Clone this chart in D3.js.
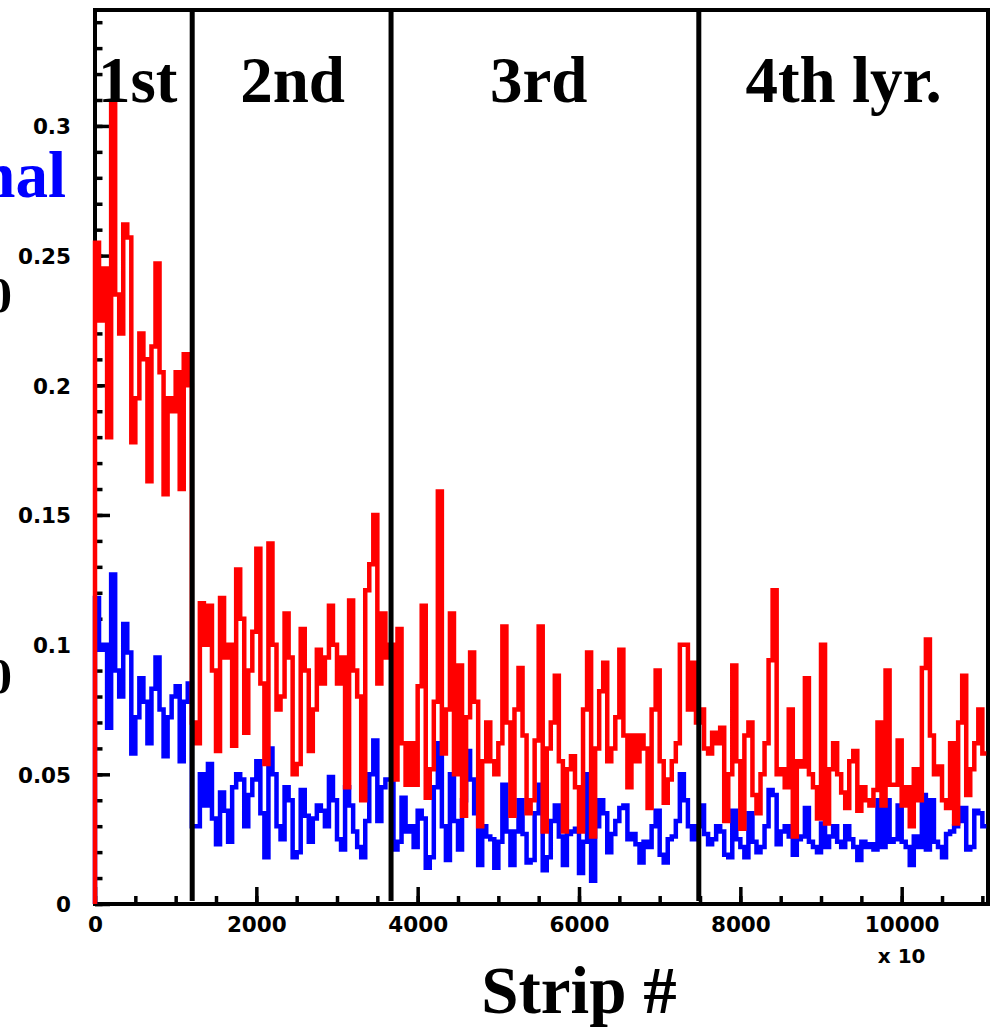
<!DOCTYPE html>
<html>
<head>
<meta charset="utf-8">
<script src="https://cdn.jsdelivr.net/npm/d3@7"></script>
<style>
  body { margin: 0; background: #fff; }
  svg { display: block; }
</style>
</head>
<body>
<svg id="chart"></svg>
<script>
// bin width in strips (x axis shown "x 10")
const binWidth = 50;

// red histogram, one array per layer
const redLayer1 = [0.255, 0.225, 0.245, 0.18, 0.309, 0.235, 0.22, 0.262, 0.257, 0.178, 0.195, 0.22,
  0.21, 0.163, 0.215, 0.247, 0.205, 0.158, 0.195, 0.19, 0.205, 0.16, 0.212, 0.2];
const redLayer2 = [0.07, 0.062, 0.116, 0.1, 0.115, 0.09, 0.059, 0.118, 0.095, 0.1, 0.061, 0.129,
  0.11, 0.066, 0.09, 0.105, 0.137, 0.085, 0.054, 0.139, 0.1, 0.075, 0.08, 0.112, 0.095, 0.05,
  0.054, 0.106, 0.09, 0.059, 0.075, 0.098, 0.085, 0.095, 0.115, 0.1, 0.085, 0.095, 0.045, 0.117,
  0.09, 0.08, 0.04, 0.121, 0.131, 0.15, 0.085, 0.112, 0.095];
const redLayer3 = [0.1, 0.048, 0.106, 0.062, 0.046, 0.062, 0.046, 0.084, 0.115, 0.041, 0.052, 0.078,
  0.159, 0.058, 0.075, 0.112, 0.05, 0.092, 0.034, 0.072, 0.097, 0.078, 0.03, 0.055, 0.07, 0.055,
  0.05, 0.062, 0.107, 0.07, 0.034, 0.075, 0.091, 0.065, 0.035, 0.04, 0.063, 0.107, 0.028, 0.06,
  0.07, 0.088, 0.055, 0.028, 0.052, 0.057, 0.045, 0.028, 0.075, 0.097, 0.026, 0.06, 0.082, 0.093,
  0.055, 0.06, 0.072, 0.098, 0.065, 0.045, 0.065, 0.055, 0.065, 0.06, 0.037, 0.075, 0.09, 0.055,
  0.039, 0.048, 0.055, 0.062, 0.1, 0.1, 0.075, 0.093];
const redLayer4 = [0.07, 0.075, 0.06, 0.058, 0.066, 0.062, 0.068, 0.032, 0.05, 0.092, 0.055, 0.029,
  0.065, 0.07, 0.042, 0.035, 0.05, 0.062, 0.094, 0.121, 0.05, 0.052, 0.045, 0.075, 0.026, 0.055,
  0.053, 0.087, 0.05, 0.045, 0.033, 0.1, 0.031, 0.052, 0.062, 0.05, 0.043, 0.037, 0.055, 0.059,
  0.036, 0.045, 0.04, 0.038, 0.044, 0.07, 0.038, 0.09, 0.046, 0.046, 0.063, 0.038, 0.045, 0.03,
  0.052, 0.04, 0.091, 0.102, 0.065, 0.05, 0.053, 0.04, 0.037, 0.062, 0.031, 0.07, 0.088, 0.042,
  0.052, 0.062, 0.075, 0.058];

// blue histogram
const blueLayer1 = [0.118, 0.098, 0.1, 0.068, 0.127, 0.09, 0.08, 0.108, 0.097, 0.058, 0.072, 0.087,
  0.078, 0.062, 0.083, 0.095, 0.075, 0.057, 0.072, 0.08, 0.084, 0.055, 0.078, 0.085];
const blueLayer2 = [0.03, 0.03, 0.05, 0.038, 0.054, 0.033, 0.023, 0.043, 0.036, 0.024, 0.045, 0.05,
  0.048, 0.03, 0.042, 0.048, 0.055, 0.035, 0.018, 0.06, 0.05, 0.03, 0.025, 0.045, 0.04, 0.018,
  0.02, 0.044, 0.034, 0.024, 0.033, 0.038, 0.036, 0.03, 0.049, 0.04, 0.025, 0.021, 0.045, 0.038,
  0.028, 0.022, 0.018, 0.032, 0.05, 0.063, 0.032, 0.045, 0.048];
const blueLayer3 = [0.048, 0.021, 0.024, 0.041, 0.028, 0.03, 0.022, 0.036, 0.033, 0.014, 0.018, 0.045,
  0.062, 0.03, 0.017, 0.05, 0.032, 0.021, 0.04, 0.059, 0.048, 0.035, 0.015, 0.03, 0.026, 0.025,
  0.014, 0.024, 0.046, 0.028, 0.015, 0.028, 0.04, 0.027, 0.016, 0.017, 0.035, 0.046, 0.013, 0.018,
  0.032, 0.038, 0.026, 0.015, 0.027, 0.028, 0.029, 0.012, 0.024, 0.05, 0.009, 0.03, 0.04, 0.035,
  0.02, 0.027, 0.032, 0.037, 0.038, 0.025, 0.027, 0.023, 0.016, 0.024, 0.022, 0.03, 0.036, 0.019,
  0.016, 0.025, 0.026, 0.032, 0.05, 0.04, 0.03, 0.025];
const blueLayer4 = [0.03, 0.038, 0.027, 0.023, 0.025, 0.03, 0.028, 0.019, 0.018, 0.036, 0.025, 0.022,
  0.018, 0.035, 0.024, 0.02, 0.022, 0.03, 0.044, 0.042, 0.023, 0.028, 0.03, 0.026, 0.019, 0.025,
  0.026, 0.037, 0.024, 0.022, 0.02, 0.031, 0.022, 0.026, 0.03, 0.024, 0.022, 0.03, 0.025, 0.022,
  0.017, 0.024, 0.022, 0.023, 0.021, 0.04, 0.022, 0.04, 0.024, 0.025, 0.038, 0.024, 0.022, 0.015,
  0.026, 0.022, 0.042, 0.021, 0.04, 0.024, 0.022, 0.018, 0.027, 0.028, 0.03, 0.032, 0.037, 0.021,
  0.022, 0.036, 0.035, 0.03];

// layer boundaries (strip #) and their labels
const layerEdges = [1205, 3670, 7485];
const layerLabels = [
  { text: '1st', at: 530 },
  { text: '2nd', at: 2450 },
  { text: '3rd', at: 5500 },
  { text: '4th lyr.', at: 9280 }
];

const xMajor = [0, 2000, 4000, 6000, 8000, 10000];
const yMajor = [0, 0.05, 0.1, 0.15, 0.2, 0.25, 0.3];

const red = [].concat(redLayer1, redLayer2, redLayer3, redLayer4);
const blue = [].concat(blueLayer1, blueLayer2, blueLayer3, blueLayer4);

// Set dimensions
const width = 1000;
const height = 1029;
const margin = { top: 10, right: 12, bottom: 125, left: 95 };

const xScale = d3.scaleLinear()
  .domain([0, 11070])
  .range([margin.left, width - margin.right]);

const yScale = d3.scaleLinear()
  .domain([0, 0.3447])
  .range([height - margin.bottom, margin.top]);

const svg = d3.select('#chart')
  .attr('width', width)
  .attr('height', height);

svg.append('rect').attr('width', width).attr('height', height).attr('fill', '#fff');

const tickFont = 'DejaVu Sans, Verdana, sans-serif';
const serif = 'Liberation Serif, Times New Roman, serif';

// Y axis: minor then major ticks pointing inward
const yMinor = d3.range(0, 0.341, 0.01).map(v => +v.toFixed(2));
svg.append('g')
  .attr('transform', `translate(${margin.left},0)`)
  .call(d3.axisLeft(yScale).tickValues(yMinor).tickSize(-7.5).tickFormat(''))
  .call(g => g.select('.domain').remove())
  .selectAll('line').attr('stroke-width', 3.5);

svg.append('g')
  .attr('transform', `translate(${margin.left},0)`)
  .call(d3.axisLeft(yScale).tickValues(yMajor).tickSize(-15).tickPadding(24)
    .tickFormat(d => d === 0 ? '0' : String(d)))
  .call(g => g.select('.domain').remove())
  .call(g => g.selectAll('line').attr('stroke-width', 3.5))
  .call(g => g.selectAll('text')
    .attr('dy', '0.36em')
    .style('font-family', tickFont)
    .style('font-weight', 'bold')
    .style('font-size', '21.5px')
    .attr('fill', '#000'));

// X axis
const xMinor = d3.range(0, 11001, 500);
svg.append('g')
  .attr('transform', `translate(0,${height - margin.bottom})`)
  .call(d3.axisBottom(xScale).tickValues(xMinor).tickSize(-8).tickFormat(''))
  .call(g => g.select('.domain').remove())
  .selectAll('line').attr('stroke-width', 3.5);

svg.append('g')
  .attr('transform', `translate(0,${height - margin.bottom})`)
  .call(d3.axisBottom(xScale).tickValues(xMajor).tickSize(-17).tickPadding(13)
    .tickFormat(d3.format('d')))
  .call(g => g.select('.domain').remove())
  .call(g => g.selectAll('line').attr('stroke-width', 3.5))
  .call(g => g.selectAll('text')
    .style('font-family', tickFont)
    .style('font-weight', 'bold')
    .style('font-size', '21.5px')
    .attr('fill', '#000'));

// Frame
svg.append('rect')
  .attr('x', margin.left)
  .attr('y', margin.top)
  .attr('width', width - margin.right - margin.left)
  .attr('height', height - margin.bottom - margin.top)
  .attr('fill', 'none')
  .attr('stroke', '#000')
  .attr('stroke-width', 4);

// Step histograms
const steps = vals => {
  const pts = [{ x: 0, v: 0 }];
  vals.forEach((v, i) => pts.push({ x: i * binWidth, v }));
  pts.push({ x: vals.length * binWidth, v: vals[vals.length - 1] });
  return pts;
};

const stepLine = d3.line()
  .x(d => xScale(d.x))
  .y(d => yScale(d.v))
  .curve(d3.curveStepAfter);

svg.append('path')
  .datum(steps(blue))
  .attr('fill', 'none')
  .attr('stroke', '#0000ff')
  .attr('stroke-width', 4.5)
  .attr('d', stepLine);

svg.append('path')
  .datum(steps(red))
  .attr('fill', 'none')
  .attr('stroke', '#ff0000')
  .attr('stroke-width', 4.5)
  .attr('d', stepLine);

// Layer dividers
svg.selectAll('.divider')
  .data(layerEdges)
  .enter()
  .append('line')
  .attr('class', 'divider')
  .attr('x1', d => xScale(d))
  .attr('x2', d => xScale(d))
  .attr('y1', margin.top)
  .attr('y2', height - margin.bottom - 3)
  .attr('stroke', '#000')
  .attr('stroke-width', 5);

// Layer labels
svg.selectAll('.layer')
  .data(layerLabels)
  .enter()
  .append('text')
  .attr('class', 'layer')
  .attr('x', d => xScale(d.at))
  .attr('y', 102)
  .attr('text-anchor', 'middle')
  .style('font-family', serif)
  .style('font-weight', 'bold')
  .style('font-size', '65px')
  .text(d => d.text);

// "x 10" multiplier
svg.append('text')
  .attr('x', xScale(10000))
  .attr('y', 963)
  .attr('text-anchor', 'middle')
  .style('font-family', tickFont)
  .style('font-weight', 'bold')
  .style('font-size', '20px')
  .text('x 10');

// X-axis title
svg.append('text')
  .attr('x', 579)
  .attr('y', 1013)
  .attr('text-anchor', 'middle')
  .style('font-family', serif)
  .style('font-weight', 'bold')
  .style('font-size', '67px')
  .text('Strip #');

// labels cut by the left edge, as in the source image
svg.append('text')
  .attr('x', 66)
  .attr('y', 197)
  .attr('text-anchor', 'end')
  .attr('fill', '#0000ff')
  .style('font-family', serif)
  .style('font-weight', 'bold')
  .style('font-size', '65px')
  .text('Signal');

svg.selectAll('.cut')
  .data([312, 693])
  .enter()
  .append('text')
  .attr('class', 'cut')
  .attr('x', 12)
  .attr('y', d => d)
  .attr('text-anchor', 'end')
  .style('font-family', serif)
  .style('font-weight', 'bold')
  .style('font-size', '50px')
  .text('0');
</script>
</body>
</html>
